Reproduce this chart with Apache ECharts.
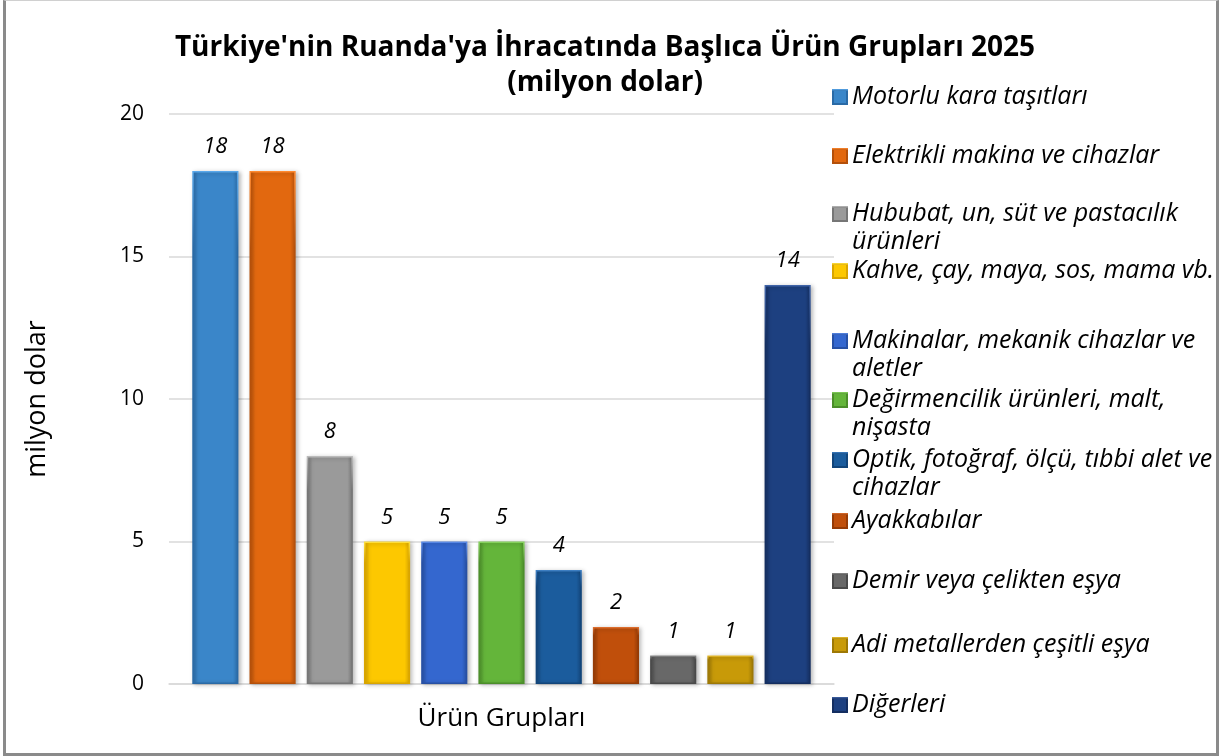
<!DOCTYPE html>
<html>
<head>
<meta charset="utf-8">
<script src="https://cdn.jsdelivr.net/npm/echarts@6/dist/echarts.min.js"></script>
<style>
  html, body { margin: 0; padding: 0; background: #fff; }
  #frame {
    position: absolute; left: 3px; top: 0; width: 1210px; height: 752px;
    border: 3px solid #8a8a8a; border-top: 1px solid #d0d0d0; background: #fff;
  }
  #chart { position: absolute; left: -3px; top: -1px; width: 1219px; height: 756px; }
</style>
</head>
<body>
<div id="frame"><div id="chart"></div></div>
<script>
// ürün grupları (legend / seri adları)
const groups = [
  'Motorlu kara taşıtları',
  'Elektrikli makina ve cihazlar',
  'Hububat, un, süt ve pastacılık ürünleri',
  'Kahve, çay, maya, sos, mama vb.',
  'Makinalar, mekanik cihazlar ve aletler',
  'Değirmencilik ürünleri, malt, nişasta',
  'Optik, fotoğraf, ölçü, tıbbi alet ve cihazlar',
  'Ayakkabılar',
  'Demir veya çelikten eşya',
  'Adi metallerden çeşitli eşya',
  'Diğerleri'
];
// legend'de gösterilen satırlar
const groupLines = [
  ['Motorlu kara taşıtları'],
  ['Elektrikli makina ve cihazlar'],
  ['Hububat, un, süt ve pastacılık', 'ürünleri'],
  ['Kahve, çay, maya, sos, mama vb.'],
  ['Makinalar, mekanik cihazlar ve', 'aletler'],
  ['Değirmencilik ürünleri, malt,', 'nişasta'],
  ['Optik, fotoğraf, ölçü, tıbbi alet ve', 'cihazlar'],
  ['Ayakkabılar'],
  ['Demir veya çelikten eşya'],
  ['Adi metallerden çeşitli eşya'],
  ['Diğerleri']
];
// milyon dolar
const values = [18, 18, 8, 5, 5, 5, 4, 2, 1, 1, 14];
const yTicks = [0, 5, 10, 15, 20];

// [ana renk, koyu kenar, açık üst]
const colors = [
  ['#3a86c9', '#2a6aa6', '#5aa8ea'],
  ['#e2680f', '#b4500a', '#ff8a30'],
  ['#9a9a9a', '#767676', '#bcbcbc'],
  ['#fdc800', '#d9a500', '#ffe040'],
  ['#3467cf', '#2750a4', '#5a8ae8'],
  ['#64b53a', '#4b8e29', '#88d460'],
  ['#1b5c9d', '#12457a', '#3f80c4'],
  ['#c04f0b', '#953b06', '#e07030'],
  ['#686868', '#4a4a4a', '#8c8c8c'],
  ['#c89a08', '#9d7805', '#ecc030'],
  ['#1d4080', '#142e60', '#4064a8']
];
// legend icon merkezleri (y)
const legendY = [97, 156, 214, 271, 341, 400, 460, 521, 581, 645, 705];

const FONT = '"Open Sans"';
const LH = 28;

function barColor(c) {
  return new echarts.graphic.LinearGradient(0, 0, 1, 0, [
    {offset: 0, color: c[1]},
    {offset: 0.12, color: c[0]},
    {offset: 0.88, color: c[0]},
    {offset: 1, color: c[1]}
  ]);
}

function barBorder(c) {
  return new echarts.graphic.LinearGradient(0, 0, 0, 1, [
    {offset: 0, color: c[2]},
    {offset: 0.15, color: c[1]},
    {offset: 1, color: c[1]}
  ]);
}

let myChart = echarts.init(document.getElementById('chart'));

let series = groups.map((name, i) => ({
  name: name,
  type: 'bar',
  data: [values[i]],
  barGap: '24%',
  barCategoryGap: '7%',
  itemStyle: {
    color: barColor(colors[i]),
    borderColor: barBorder(colors[i]),
    borderWidth: 1.5,
    shadowColor: 'rgba(0,0,0,0.25)',
    shadowBlur: 4,
    shadowOffsetX: 2,
    shadowOffsetY: 1
  },
  label: {
    show: true,
    position: 'top',
    distance: 13,
    fontFamily: FONT,
    fontStyle: 'italic',
    fontSize: 22,
    color: '#000'
  }
}));

// iki satırlı öğelerde ilk satır ikonla hizalansın diye başa boş satır
let legends = groups.map((name, i) => {
  let lines = groupLines[i];
  let text = lines.length > 1 ? ' \n' + lines.join('\n') : lines[0];
  return {
    data: [name],
    left: 829,
    top: legendY[i] - 14 - (lines.length > 1 ? LH : 0),
    padding: 0,
    itemWidth: 14,
    itemHeight: 14,
    icon: 'rect',
    selectedMode: false,
    formatter: () => text,
    textStyle: {
      fontFamily: FONT,
      fontStyle: 'italic',
      fontSize: 25,
      lineHeight: LH,
      color: '#000'
    }
  };
});

myChart.setOption({
  animation: false,
  title: {
    text: "Türkiye'nin Ruanda'ya İhracatında Başlıca Ürün Grupları 2025\n(milyon dolar)",
    left: 597,
    textAlign: 'center',
    top: 26,
    textStyle: {
      fontFamily: FONT,
      fontWeight: 'bold',
      fontSize: 28,
      lineHeight: 35,
      color: '#000'
    }
  },
  legend: legends,
  grid: {
    left: 166,
    right: 388,
    top: 114,
    bottom: 72
  },
  xAxis: {
    type: 'category',
    data: [''],
    name: 'Ürün Grupları',
    nameLocation: 'middle',
    nameGap: 22,
    nameTextStyle: {fontFamily: FONT, fontSize: 26, color: '#000'},
    axisLine: {lineStyle: {color: '#d9d9d9', width: 1.5}},
    axisTick: {show: false},
    axisLabel: {show: false}
  },
  yAxis: {
    type: 'value',
    min: yTicks[0],
    max: yTicks[yTicks.length - 1],
    interval: yTicks[1] - yTicks[0],
    name: 'milyon dolar',
    nameLocation: 'middle',
    nameGap: 118,
    nameTextStyle: {fontFamily: FONT, fontSize: 27, color: '#000'},
    axisLine: {show: false},
    axisTick: {show: false},
    axisLabel: {fontFamily: FONT, fontSize: 21, color: '#000', margin: 25},
    splitLine: {lineStyle: {color: '#d9d9d9', width: 1.5}}
  },
  series: series
});
</script>
</body>
</html>
